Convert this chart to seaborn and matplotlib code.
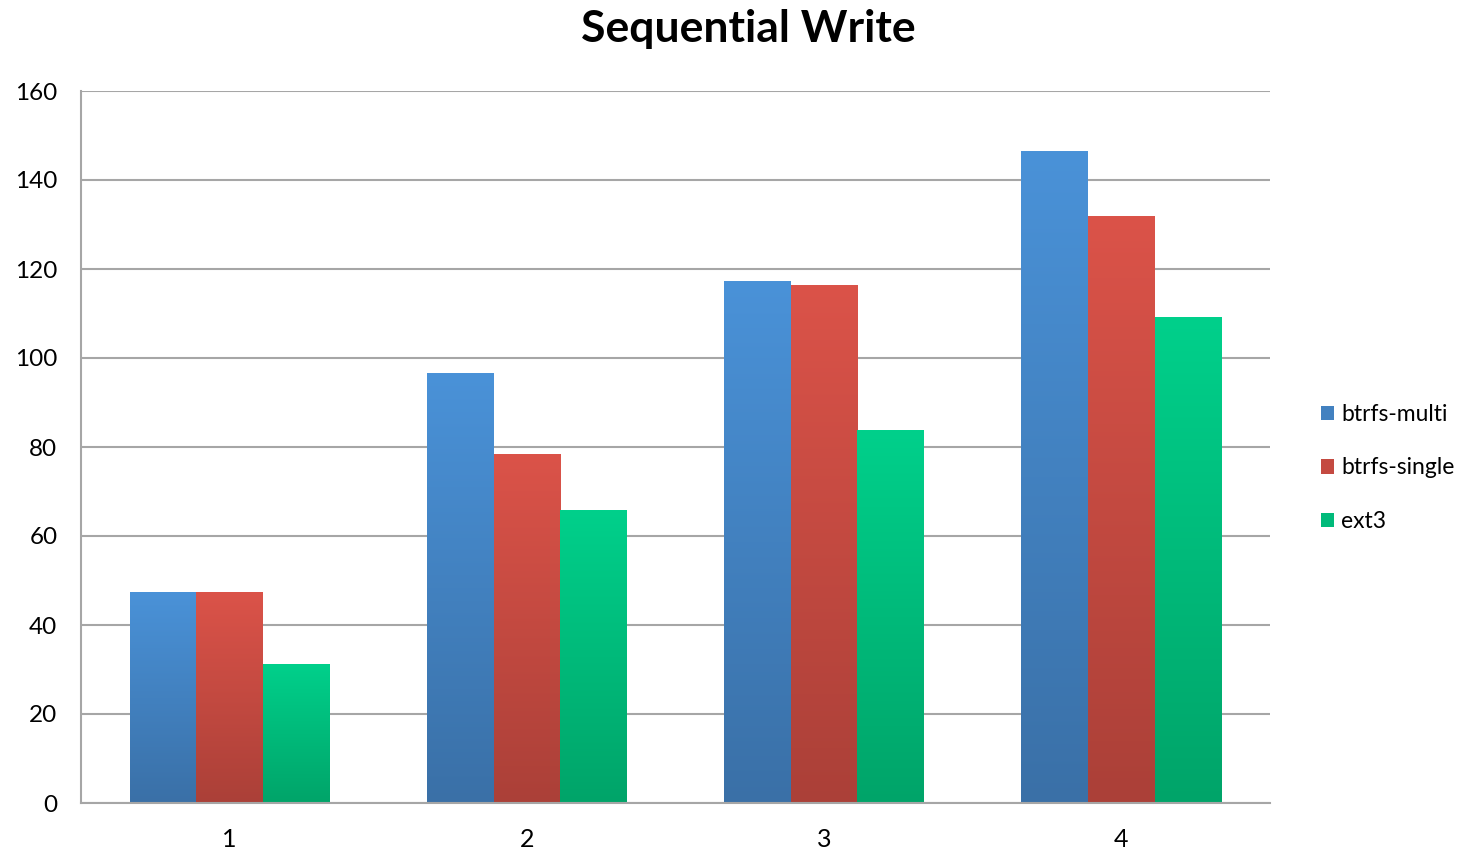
import numpy as np
import pandas as pd
import matplotlib
matplotlib.use("Agg")
import matplotlib.pyplot as plt
import seaborn as sns
from matplotlib.colors import LinearSegmentedColormap
from matplotlib.patches import Patch

categories = ["1", "2", "3", "4"]
series_names = ["btrfs-multi", "btrfs-single", "ext3"]
btrfs_multi = [47.4, 96.6, 117.1, 146.3]
btrfs_single = [47.4, 78.4, 116.4, 131.7]
ext3 = [31.2, 65.8, 83.6, 109.0]
y_ticks = [0, 20, 40, 60, 80, 100, 120, 140, 160]

top_colors = ["#4A92D8", "#DB5349", "#00D08B"]
bottom_colors = ["#3A70A7", "#AB4038", "#00A469"]
mid_colors = ["#4281C0", "#C44A41", "#00BA7A"]

df = pd.DataFrame({
    "cat": categories * 3,
    "series": [s for s in series_names for _ in categories],
    "value": btrfs_multi + btrfs_single + ext3,
})

sns.set_theme(style="white")
plt.rcParams["font.family"] = ["Lato", "DejaVu Sans"]
plt.rcParams["text.color"] = "black"
plt.rcParams["xtick.color"] = "black"
plt.rcParams["ytick.color"] = "black"

fig = plt.figure(figsize=(14.69, 8.51), dpi=100)
ax = fig.add_axes([81 / 1469, 1 - 803 / 851, (1270 - 81) / 1469, (803 - 91) / 851])

sns.barplot(data=df, x="cat", y="value", hue="series", order=categories,
            hue_order=series_names, palette=mid_colors, width=0.672, gap=0,
            legend=False, ax=ax, saturation=1)

# gradient fill for each bar
n = len(categories)
for i, p in enumerate(ax.patches[: 3 * n]):
    s = i // n
    x0, y0 = p.get_x(), p.get_y()
    w, h = p.get_width(), p.get_height()
    cmap = LinearSegmentedColormap.from_list("g", [bottom_colors[s], top_colors[s]])
    grad = np.linspace(0, 1, 256).reshape(-1, 1)
    ax.imshow(grad, extent=[x0, x0 + w, y0, y0 + h], origin="lower",
              cmap=cmap, aspect="auto", zorder=2.5)
    p.set_visible(False)
ax.set_xlim(-0.5, 3.5)
ax.set_ylim(0, 160)

ax.set_yticks(y_ticks)
ax.set_yticklabels([str(t) for t in y_ticks], fontsize=17.5)
for lbl in ax.get_yticklabels():
    lbl.set_va("center_baseline")
ax.tick_params(axis="x", labelsize=18, labelcolor="black", pad=18, length=0)
ax.tick_params(axis="y", labelcolor="black", pad=17, length=0)
ax.yaxis.grid(True, color="#A6A6A6", linewidth=1.5)
ax.set_axisbelow(True)
ax.set_xlabel("")
ax.set_ylabel("")
for side in ["top", "right"]:
    ax.spines[side].set_visible(False)
for side in ["left", "bottom"]:
    ax.spines[side].set_color("#A6A6A6")
    ax.spines[side].set_linewidth(1.5)

fig.suptitle("Sequential Write", fontsize=32, fontweight="bold", color="black",
             y=0.99, x=748 / 1469)

handles = [Patch(facecolor=mid_colors[i], edgecolor="none") for i in range(3)]
fig.legend(handles, series_names, loc="center left",
           bbox_to_anchor=(1300 / 1469, 1 - 468 / 851), frameon=False,
           fontsize=16.5, handlelength=0.6, handleheight=0.6, handletextpad=0.3,
           labelspacing=1.42, labelcolor="black")

fig.savefig("out.png", dpi=100)
